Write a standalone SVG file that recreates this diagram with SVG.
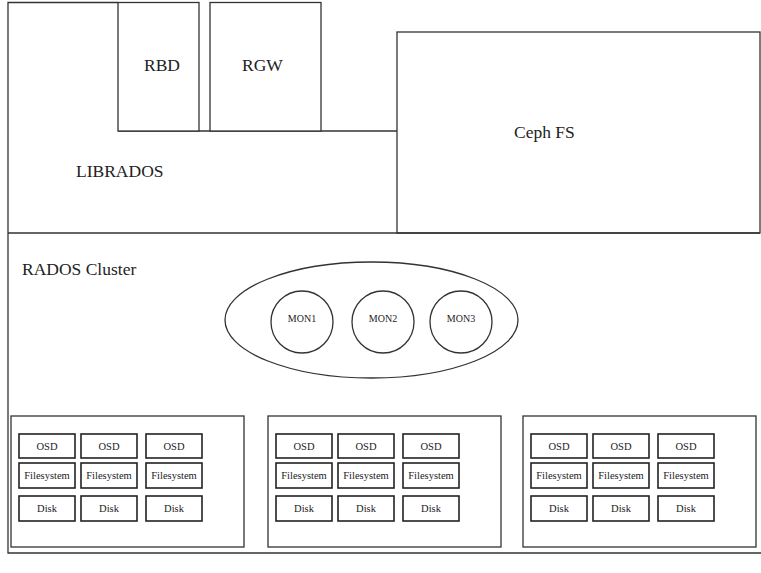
<svg xmlns="http://www.w3.org/2000/svg" width="761" height="573" viewBox="0 0 761 573">
<style>
.ln{fill:none;stroke:#333;stroke-width:1.3}
.box{fill:#fff;stroke:#333;stroke-width:1.3}
.cell{fill:#fff;stroke:#222;stroke-width:1.6}
text{font-family:"Liberation Serif","Times New Roman","DejaVu Serif",serif;fill:#222}
.big{font-size:17.5px}
.sm{font-size:10.5px;text-anchor:middle}
.mon{font-size:10px;text-anchor:middle}
</style>
<defs>
<g id="host">
<rect class="box" x="0" y="0" width="233" height="131"/>
<rect class="cell" x="8" y="18" width="56" height="24"/>
<rect class="cell" x="70" y="18" width="56" height="24"/>
<rect class="cell" x="135" y="18" width="56" height="24"/>
<rect class="cell" x="8" y="47" width="56" height="25"/>
<rect class="cell" x="70" y="47" width="56" height="25"/>
<rect class="cell" x="135" y="47" width="56" height="25"/>
<rect class="cell" x="8" y="80" width="56" height="25"/>
<rect class="cell" x="70" y="80" width="56" height="25"/>
<rect class="cell" x="135" y="80" width="56" height="25"/>
<text class="sm" x="36" y="34">OSD</text>
<text class="sm" x="98" y="34">OSD</text>
<text class="sm" x="163" y="34">OSD</text>
<text class="sm" x="36" y="63">Filesystem</text>
<text class="sm" x="98" y="63">Filesystem</text>
<text class="sm" x="163" y="63">Filesystem</text>
<text class="sm" x="36" y="96">Disk</text>
<text class="sm" x="98" y="96">Disk</text>
<text class="sm" x="163" y="96">Disk</text>
</g>
</defs>
<rect x="0" y="0" width="761" height="573" fill="#fff"/>
<g id="librados">
<path class="ln" d="M8,233 L8,2.5 L118,2.5 M118,131 L397,131"/>
<text class="big" x="76" y="177">LIBRADOS</text>
</g>
<g id="rbd">
<rect class="box" x="118" y="2.5" width="81" height="128.5"/>
<text class="big" x="144" y="71">RBD</text>
</g>
<g id="rgw">
<rect class="box" x="210" y="2.5" width="111" height="128.5"/>
<text class="big" x="242" y="71">RGW</text>
</g>
<g id="cephfs">
<rect class="box" x="397" y="32" width="363" height="201"/>
<text class="big" x="514" y="138">Ceph FS</text>
</g>
<g id="rados">
<path class="ln" d="M8,233 L760,233 M8,233 L8,553 L761,553"/>
<text class="big" x="22" y="275">RADOS Cluster</text>
</g>
<g id="monitors">
<ellipse class="ln" cx="371.5" cy="320" rx="146.5" ry="58"/>
</g>
<g id="mon1">
<circle class="ln" cx="302" cy="322" r="31"/>
<text class="mon" x="302" y="322">MON1</text>
</g>
<g id="mon2">
<circle class="ln" cx="383" cy="322" r="31"/>
<text class="mon" x="383" y="322">MON2</text>
</g>
<g id="mon3">
<circle class="ln" cx="461" cy="322" r="31"/>
<text class="mon" x="461" y="322">MON3</text>
</g>
<g id="host1"><use href="#host" x="11" y="416"/></g>
<g id="host2"><use href="#host" x="268" y="416"/></g>
<g id="host3"><use href="#host" x="523" y="416"/></g>
<g id="connectors"></g>
</svg>
